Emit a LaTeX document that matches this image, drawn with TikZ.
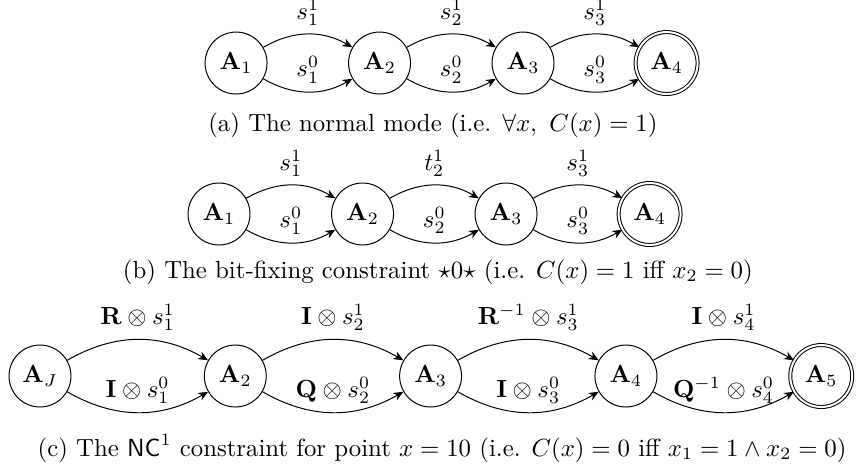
\documentclass[tikz,border=0pt]{standalone}
\usepackage{amsmath,amssymb}
\usetikzlibrary{arrows.meta}
\tikzset{
 stnode/.style={circle,draw=black,line width=.4pt,minimum size=25pt,inner sep=0pt},
 endnode/.style={stnode,double,double distance=.8pt},
 flow/.style={-{Stealth[length=4pt,width=3.4pt]},draw=black,line width=.4pt},
 hi/.style={flow,bend left=30},
 lo/.style={flow,bend right=30},
 tag/.style={above},
 caption/.style={inner sep=0pt},
}

\begin{document}
\begin{tikzpicture}

\useasboundingbox (0,0) rectangle (12.14,-6.61);

% (a) normal mode
\node[stnode] (a1) at (3.348,-0.894) {$\mathbf{A}_1$};
\node[stnode] (a2) at (5.383,-0.894) {$\mathbf{A}_2$};
\node[stnode] (a3) at (7.418,-0.894) {$\mathbf{A}_3$};
\node[endnode] (a4) at (9.454,-0.894) {$\mathbf{A}_4$};
\draw[hi] (a1) to node[tag] {$s_1^1$} (a2);
\draw[lo] (a1) to node[tag] {$s_1^0$} (a2);
\draw[hi] (a2) to node[tag] {$s_2^1$} (a3);
\draw[lo] (a2) to node[tag] {$s_2^0$} (a3);
\draw[hi] (a3) to node[tag] {$s_3^1$} (a4);
\draw[lo] (a3) to node[tag] {$s_3^0$} (a4);
\node[caption] (capa) at (6.14,-1.773) {(a) The normal mode (i.e. $\forall x,\ C(x)=1$)};

% (b) bit-fixing
\node[stnode] (b1) at (3.106,-3.035) {$\mathbf{A}_1$};
\node[stnode] (b2) at (5.142,-3.035) {$\mathbf{A}_2$};
\node[stnode] (b3) at (7.177,-3.035) {$\mathbf{A}_3$};
\node[endnode] (b4) at (9.213,-3.035) {$\mathbf{A}_4$};
\draw[hi] (b1) to node[tag] {$s_1^1$} (b2);
\draw[lo] (b1) to node[tag] {$s_1^0$} (b2);
\draw[hi] (b2) to node[tag] {$t_2^1$} (b3);
\draw[lo] (b2) to node[tag] {$s_2^0$} (b3);
\draw[hi] (b3) to node[tag] {$s_3^1$} (b4);
\draw[lo] (b3) to node[tag] {$s_3^0$} (b4);
\node[caption] (capb) at (6.21,-3.858) {(b) The bit-fixing constraint $\star 0\star$ (i.e. $C(x)=1$ iff $x_2=0$)};

% (c) NC1
\node[stnode] (c1) at (0.567,-5.333) {$\mathbf{A}_J$};
\node[stnode] (c2) at (3.337,-5.333) {$\mathbf{A}_2$};
\node[stnode] (c3) at (6.107,-5.333) {$\mathbf{A}_3$};
\node[stnode] (c4) at (8.877,-5.333) {$\mathbf{A}_4$};
\node[endnode] (c5) at (11.647,-5.333) {$\mathbf{A}_5$};
\draw[hi] (c1) to node[tag] {$\mathbf{R}\otimes s_1^1$} (c2);
\draw[lo] (c1) to node[tag] {$\mathbf{I}\otimes s_1^0$} (c2);
\draw[hi] (c2) to node[tag] {$\mathbf{I}\otimes s_2^1$} (c3);
\draw[lo] (c2) to node[tag] {$\mathbf{Q}\otimes s_2^0$} (c3);
\draw[hi] (c3) to node[tag] {$\mathbf{R}^{-1}\otimes s_3^1$} (c4);
\draw[lo] (c3) to node[tag] {$\mathbf{I}\otimes s_3^0$} (c4);
\draw[hi] (c4) to node[tag] {$\mathbf{I}\otimes s_4^1$} (c5);
\draw[lo] (c4) to node[tag] {$\mathbf{Q}^{-1}\otimes s_4^0$} (c5);
\node[caption] (capc) at (6.27,-6.355) {(c) The $\mathsf{NC}^1$ constraint for point $x=10$ (i.e. $C(x)=0$ iff $x_1=1\land x_2=0$)};

\end{tikzpicture}
\end{document}
